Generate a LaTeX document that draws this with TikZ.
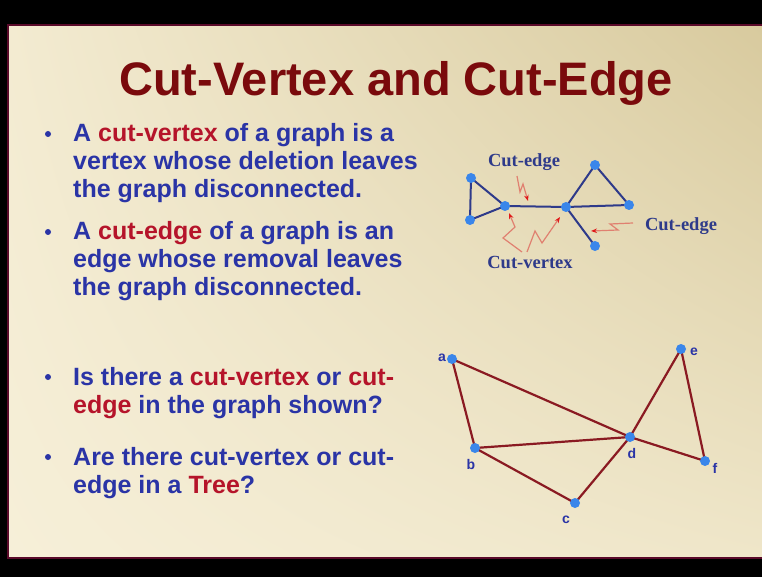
\documentclass[tikz,border=0pt]{standalone}
\usepackage{fontspec}
\setmainfont{Liberation Sans}
\newfontfamily\serifbold{Liberation Serif Bold}
\usetikzlibrary{arrows.meta,shadings}
\definecolor{slideA}{HTML}{F3EBD1}
\definecolor{slideB}{HTML}{D8CA9E}
\definecolor{slideC}{HTML}{F6EFD8}
\definecolor{slideD}{HTML}{EFE6C9}
\definecolor{frame}{HTML}{5A0A2A}
\definecolor{titlered}{HTML}{7A0A0C}
\definecolor{tblue}{HTML}{2A34A6}
\definecolor{tred}{HTML}{B5142A}
\definecolor{gblue}{HTML}{2E3A8A}
\definecolor{nblue}{HTML}{3A86EA}
\definecolor{gred}{HTML}{8A1A22}
\definecolor{squig}{HTML}{E08070}
\definecolor{tipred}{HTML}{E01818}
\begin{document}
\begin{tikzpicture}[x=1pt,y=-1pt,
  bodytext/.style={anchor=base west, inner sep=0pt, text=tblue, font=\fontsize{25}{28}\selectfont\bfseries},
  bul/.style={fill=tblue},
  sdot/.style={circle, fill=nblue, inner sep=0pt, minimum size=10pt},
  bdot/.style={circle, fill=nblue, inner sep=0pt, minimum size=10pt},
  sedge/.style={draw=gblue, line width=2pt},
  bedge/.style={draw=gred, line width=2.2pt},
  slabel/.style={anchor=base, inner sep=0pt, text=gblue, font=\fontsize{18.5}{20}\selectfont\serifbold},
  blabel/.style={inner sep=0pt, text=tblue, font=\fontsize{14}{16}\selectfont\bfseries},
  squiggle/.style={draw=squig, line width=1.2pt, -{Stealth[color=tipred, length=6pt, width=4.5pt]}}
]
\useasboundingbox (0,0) rectangle (762,577);
\fill[black] (0,0) rectangle (762,577);
\shade[upper left=slideA, upper right=slideB, lower left=slideC, lower right=slideD] (8,25) rectangle (762,558);
\draw[frame, line width=2.5pt] (762,25) -- (8,25) -- (8,558) -- (762,558);

% title
\node[anchor=base, inner sep=0pt, text=titlered, font=\fontsize{47}{50}\selectfont\bfseries] (title) at (396,96) {Cut-Vertex and Cut-Edge};

% bullets
\fill[bul] (48,134) circle (3);
\fill[bul] (48,232) circle (3);
\fill[bul] (48,377) circle (3);
\fill[bul] (48,457) circle (3);

\node[bodytext] (l1) at (73,142) {A \textcolor{tred}{cut-vertex} of a graph is a};
\node[bodytext] (l2) at (73,170) {vertex whose deletion leaves};
\node[bodytext] (l3) at (73,198) {the graph disconnected.};
\node[bodytext] (l4) at (73,240) {A \textcolor{tred}{cut-edge} of a graph is an};
\node[bodytext] (l5) at (73,267) {edge whose removal leaves};
\node[bodytext] (l6) at (73,295) {the graph disconnected.};
\node[bodytext] (l7) at (73,385) {Is there a \textcolor{tred}{cut-vertex} or \textcolor{tred}{cut-}};
\node[bodytext] (l8) at (73,413) {\textcolor{tred}{edge} in the graph shown?};
\node[bodytext] (l9) at (73,465) {Are there cut-vertex or cut-};
\node[bodytext] (l10) at (73,493) {edge in a \textcolor{tred}{Tree}?};

% small graph
\coordinate (ps1) at (471,178);
\coordinate (ps2) at (470,220);
\coordinate (ps3) at (505,206);
\coordinate (ps4) at (566,207);
\coordinate (ps5) at (595,165);
\coordinate (ps6) at (629,205);
\coordinate (ps7) at (595,246);
\path[sedge] (ps1) -- (ps2) (ps1) -- (ps3) (ps2) -- (ps3)
  (ps3) -- (ps4) (ps4) -- (ps5) (ps5) -- (ps6)
  (ps4) -- (ps6) (ps4) -- (ps7);
\node[sdot] (s1) at (ps1) {};
\node[sdot] (s2) at (ps2) {};
\node[sdot] (s3) at (ps3) {};
\node[sdot] (s4) at (ps4) {};
\node[sdot] (s5) at (ps5) {};
\node[sdot] (s6) at (ps6) {};
\node[sdot] (s7) at (ps7) {};

\node[slabel] (ce1) at (524,167) {Cut-edge};
\node[slabel] (ce2) at (681,230) {Cut-edge};
\node[slabel] (cv) at (530,268) {Cut-vertex};

\coordinate (q1a) at (517,176);
\coordinate (q1b) at (520,192);
\coordinate (q1c) at (523,184);
\coordinate (q1d) at (528,201);
\draw[squiggle] (q1a) -- (q1b) -- (q1c) -- (q1d);

\coordinate (q2a) at (522,252);
\coordinate (q2b) at (503,238);
\coordinate (q2c) at (515,227);
\coordinate (q2d) at (509,213);
\draw[squiggle] (q2a) -- (q2b) -- (q2c) -- (q2d);

\coordinate (q3a) at (527,252);
\coordinate (q3b) at (535,231);
\coordinate (q3c) at (542,243);
\coordinate (q3d) at (560,217);
\draw[squiggle] (q3a) -- (q3b) -- (q3c) -- (q3d);

\coordinate (q4a) at (633,223);
\coordinate (q4b) at (610,224);
\coordinate (q4c) at (618,230);
\coordinate (q4d) at (591,231);
\draw[squiggle] (q4a) -- (q4b) -- (q4c) -- (q4d);

% big graph
\coordinate (pa) at (452,359);
\coordinate (pb) at (475,448);
\coordinate (pc) at (575,503);
\coordinate (pd) at (630,437);
\coordinate (pe) at (681,349);
\coordinate (pf) at (705,461);
\path[bedge] (pa) -- (pb) (pa) -- (pd) (pb) -- (pd) (pb) -- (pc) (pc) -- (pd)
  (pd) -- (pe) (pe) -- (pf) (pd) -- (pf);
\node[bdot] (a) at (pa) {};
\node[bdot] (b) at (pb) {};
\node[bdot] (c) at (pc) {};
\node[bdot] (d) at (pd) {};
\node[bdot] (e) at (pe) {};
\node[bdot] (f) at (pf) {};
\node[blabel] (la) at (442,358) {a};
\node[blabel] (lb) at (471,464) {b};
\node[blabel] (lc) at (566,520) {c};
\node[blabel] (ld) at (632,453) {d};
\node[blabel] (le) at (694,352) {e};
\node[blabel] (lf) at (715,468) {f};
\end{tikzpicture}
\end{document}
